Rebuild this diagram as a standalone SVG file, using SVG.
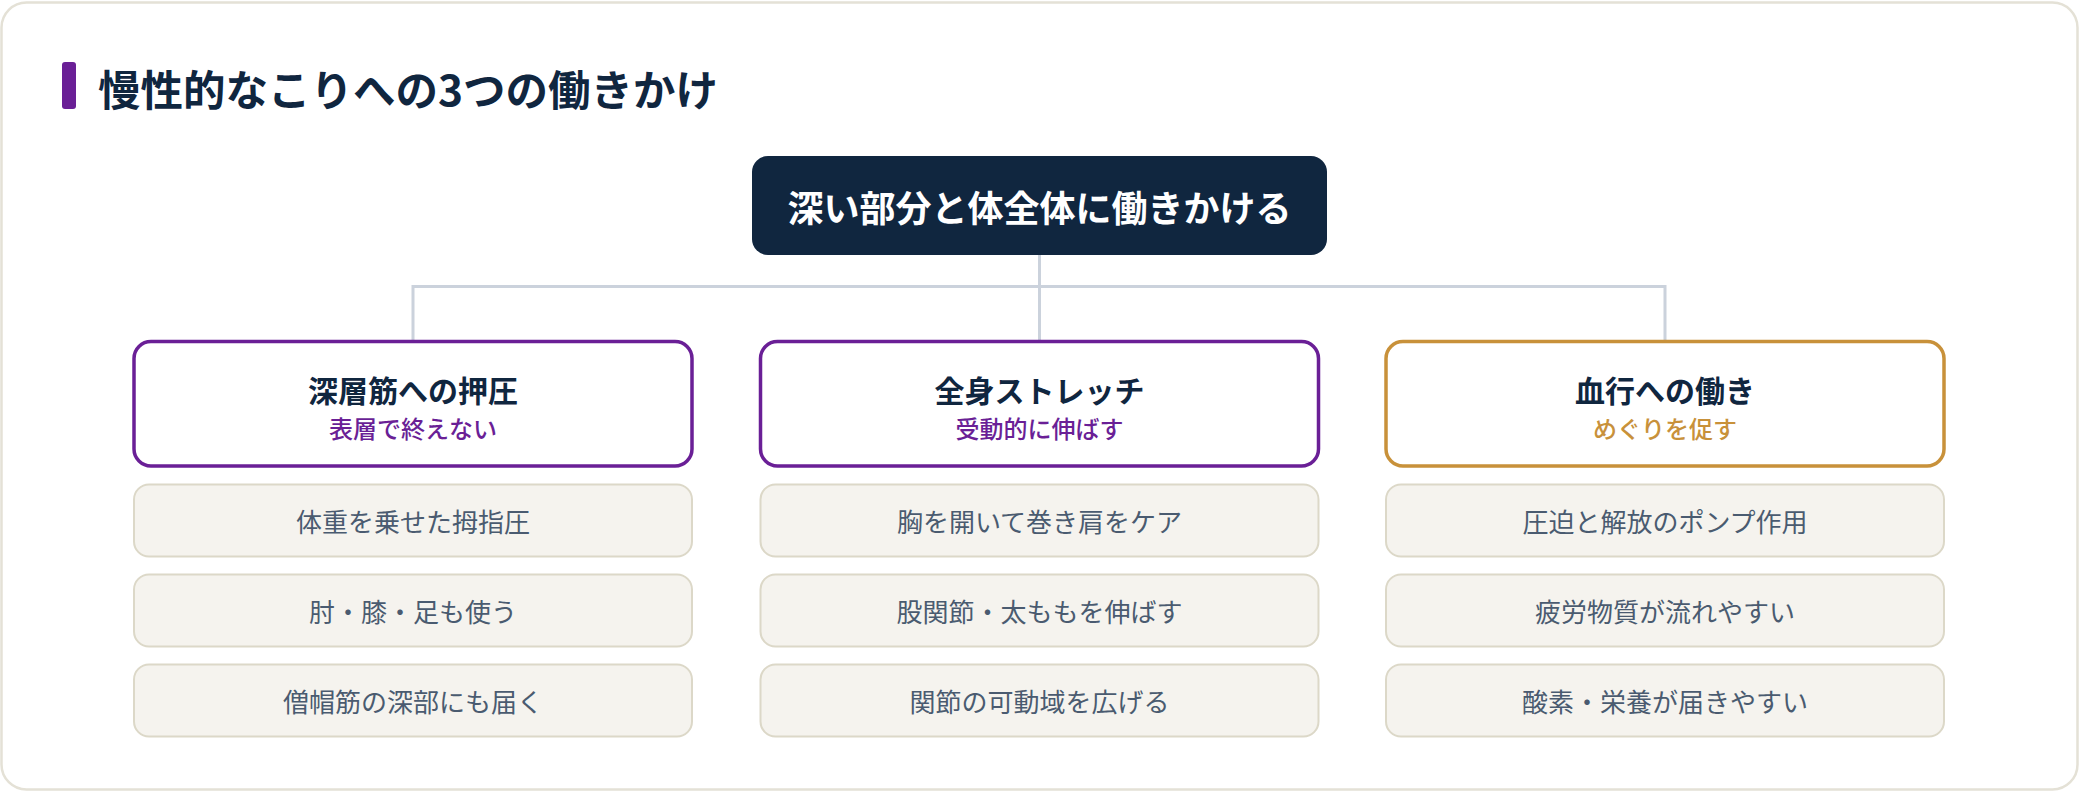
<svg xmlns="http://www.w3.org/2000/svg" width="2080" height="792" viewBox="0 0 2080 792">
<style>
text{font-family:"Noto Sans CJK JP","Noto Sans",sans-serif;text-anchor:middle;dominant-baseline:central}
.card{fill:#ffffff;stroke:#e4e1d6;stroke-width:2.5}
.hub{fill:#10263f}
.hubt{fill:#ffffff;font-size:36px;font-weight:700}
.cat{fill:#ffffff;stroke-width:3.5}
.p{stroke:#6a1f96}
.g{stroke:#c8913a}
.ct{fill:#10263f;font-size:30px;font-weight:700}
.sp{fill:#6a1f96;font-size:24px;font-weight:500}
.sg{fill:#c8913a;font-size:24px;font-weight:500}
.item{fill:#f5f3ee;stroke:#dcd8c8;stroke-width:2}
.it{fill:#4a5b70;font-size:26px;font-weight:400}
.conn{fill:none;stroke:#cbd2dc;stroke-width:3;stroke-linejoin:miter}
</style>
<rect class="card" x="1.5" y="2.5" width="2076" height="787" rx="25"/>
<g id="title">
<rect x="62" y="62" width="14" height="47" rx="3" fill="#6a1f96"/>
<text x="98" y="87" style="text-anchor:start;font-size:42.5px;font-weight:700;fill:#10263f">慢性的なこりへの3つの働きかけ</text>
</g>
<g id="connectors">
<path class="conn" d="M1039.5 255 V286.5"/>
<path class="conn" d="M413 341.5 V286.5 H1665 V341.5"/>
<path class="conn" d="M1039.5 286.5 V341.5"/>
</g>
<g id="hub">
<rect class="hub" x="752" y="156" width="575" height="99" rx="16"/>
<text class="hubt" x="1039.5" y="206">深い部分と体全体に働きかける</text>
</g>
<g id="cat1">
<rect class="cat p" x="134" y="341.5" width="558" height="124.5" rx="17"/>
<text class="ct" x="413" y="389">深層筋への押圧</text>
<text class="sp" x="413" y="427">表層で終えない</text>
</g>
<g id="cat2">
<rect class="cat p" x="760.5" y="341.5" width="558" height="124.5" rx="17"/>
<text class="ct" x="1039.5" y="389">全身ストレッチ</text>
<text class="sp" x="1039.5" y="427">受動的に伸ばす</text>
</g>
<g id="cat3">
<rect class="cat g" x="1386" y="341.5" width="558" height="124.5" rx="17"/>
<text class="ct" x="1665" y="389">血行への働き</text>
<text class="sg" x="1665" y="427">めぐりを促す</text>
</g>
<g id="item1a"><rect class="item" x="134" y="484.5" width="558" height="72" rx="15"/><text class="it" x="413" y="520.5">体重を乗せた拇指圧</text></g>
<g id="item1b"><rect class="item" x="134" y="574.5" width="558" height="72" rx="15"/><text class="it" x="413" y="610.5">肘・膝・足も使う</text></g>
<g id="item1c"><rect class="item" x="134" y="664.5" width="558" height="72" rx="15"/><text class="it" x="413" y="700.5">僧帽筋の深部にも届く</text></g>
<g id="item2a"><rect class="item" x="760.5" y="484.5" width="558" height="72" rx="15"/><text class="it" x="1039.5" y="520.5">胸を開いて巻き肩をケア</text></g>
<g id="item2b"><rect class="item" x="760.5" y="574.5" width="558" height="72" rx="15"/><text class="it" x="1039.5" y="610.5">股関節・太ももを伸ばす</text></g>
<g id="item2c"><rect class="item" x="760.5" y="664.5" width="558" height="72" rx="15"/><text class="it" x="1039.5" y="700.5">関節の可動域を広げる</text></g>
<g id="item3a"><rect class="item" x="1386" y="484.5" width="558" height="72" rx="15"/><text class="it" x="1665" y="520.5">圧迫と解放のポンプ作用</text></g>
<g id="item3b"><rect class="item" x="1386" y="574.5" width="558" height="72" rx="15"/><text class="it" x="1665" y="610.5">疲労物質が流れやすい</text></g>
<g id="item3c"><rect class="item" x="1386" y="664.5" width="558" height="72" rx="15"/><text class="it" x="1665" y="700.5">酸素・栄養が届きやすい</text></g>
</svg>
